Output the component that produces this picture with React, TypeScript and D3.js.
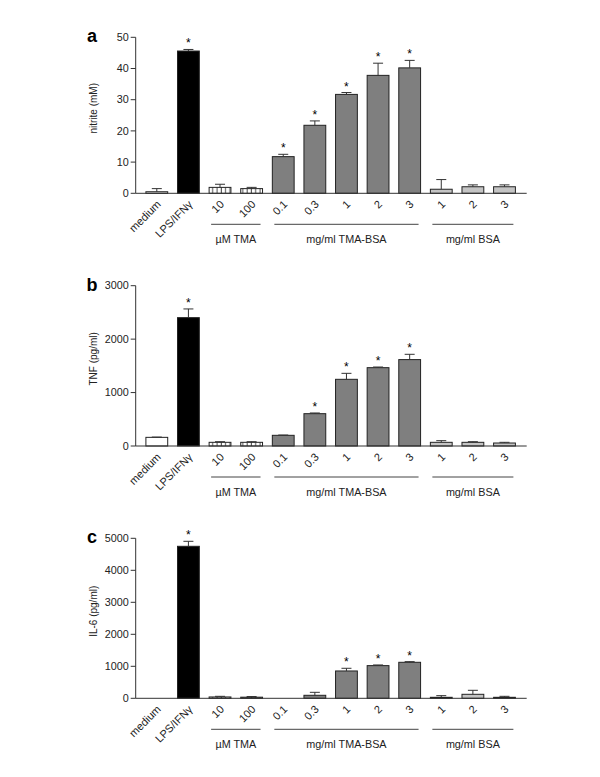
import React from "react";
import * as d3 from "d3";

const categories = ["medium", "LPS/IFNγ", "10", "100", "0.1", "0.3", "1", "2", "3", "1", "2", "3"];
const categoryKind = ["medium", "lps", "tma", "tma", "tmabsa", "tmabsa", "tmabsa", "tmabsa", "tmabsa", "bsa", "bsa", "bsa"];

const nitriteMean = [0.5, 45.6, 1.9, 1.5, 11.75, 21.8, 31.7, 37.8, 40.2, 1.3, 2.1, 2.1];
const nitriteErr = [1.0, 0.5, 1.0, 0.4, 0.75, 1.4, 0.6, 3.9, 2.4, 3.1, 0.6, 0.6];
const nitriteStar = [false, true, false, false, true, true, true, true, true, false, false, false];
const nitriteTicks = [0, 10, 20, 30, 40, 50];

const tnfMean = [162, 2402, 69, 69, 200, 605, 1248, 1466, 1617, 69, 69, 56];
const tnfErr = [5, 163, 12, 12, 5, 13, 112, 12, 99, 31, 12, 13];
const tnfStar = [false, true, false, false, false, true, true, true, true, false, false, false];
const tnfTicks = [0, 1000, 2000, 3000];

const il6Mean = [0, 4750, 42, 35, 0, 94, 854, 1021, 1125, 31, 125, 31];
const il6Err = [0, 156, 20, 20, 0, 93, 84, 21, 21, 52, 125, 31];
const il6Star = [false, true, false, false, false, false, true, true, true, false, false, false];
const il6Ticks = [0, 1000, 2000, 3000, 4000, 5000];

const groupLabels = ["µM TMA", "mg/ml TMA-BSA", "mg/ml BSA"];
const groupStart = [2, 4, 9];
const groupEnd = [3, 8, 11];

const FONT = "'Liberation Sans', Arial, Helvetica, sans-serif";

const fills: Record<string, string> = {
  medium: "#ffffff",
  lps: "#000000",
  tma: "url(#vhatch)",
  tmabsa: "#7f7f7f",
  bsa: "#c4c4c4",
};

type PanelProps = {
  letter: string;
  yLabel: string;
  means: number[];
  errs: number[];
  stars: boolean[];
  ticks: number[];
  yTop: number;
  yBase: number;
};

const x = d3
  .scaleBand<number>()
  .domain(d3.range(categories.length))
  .range([141, 520.3])
  .paddingInner(0.31)
  .paddingOuter(0.155);

const axisX = 135.7;
const axisEnd = 526.7;

function Panel({ letter, yLabel, means, errs, stars, ticks, yTop, yBase }: PanelProps) {
  const maxT = ticks[ticks.length - 1];
  const y = d3.scaleLinear().domain([0, maxT]).range([yBase, yTop]);
  const bw = x.bandwidth();
  return (
    <g>
      <text x={92} y={yTop + 5} fontSize={18} fontWeight="bold" fontFamily={FONT} textAnchor="middle">
        {letter}
      </text>
      <text
        transform={`translate(96.5,${(yTop + yBase) / 2 - 7}) rotate(-90)`}
        fontSize={10}
        fontFamily={FONT}
        textAnchor="middle"
        fill="#222"
      >
        {yLabel}
      </text>
      {/* y axis */}
      <line x1={axisX} x2={axisX} y1={y(maxT)} y2={yBase} stroke="#333" strokeWidth={1} />
      {ticks.map((t) => (
        <g key={t}>
          <line x1={axisX - 5} x2={axisX} y1={y(t)} y2={y(t)} stroke="#333" strokeWidth={1} />
          <text x={axisX - 7} y={y(t)} dy="0.35em" fontSize={10.8} fontFamily={FONT} textAnchor="end" fill="#222">
            {t}
          </text>
        </g>
      ))}
      {/* bars */}
      {means.map((m, i) => {
        const bx = x(i)!;
        const cx = bx + bw / 2;
        const top = y(m);
        const errTop = y(m + errs[i]);
        return (
          <g key={i}>
            {m > 0 && (
              <rect
                x={bx}
                y={top}
                width={bw}
                height={yBase - top}
                fill={fills[categoryKind[i]]}
                stroke="#222"
                strokeWidth={1}
              />
            )}
            {errs[i] > 0 && (
              <g stroke="#333" strokeWidth={1}>
                <line x1={cx} x2={cx} y1={top} y2={errTop} />
                <line x1={cx - 5} x2={cx + 5} y1={errTop} y2={errTop} />
              </g>
            )}
            {stars[i] && (
              <text x={cx} y={errTop - 2} fontSize={12} fontFamily={FONT} textAnchor="middle">
                *
              </text>
            )}
          </g>
        );
      })}
      {/* baseline */}
      <line x1={axisX} x2={axisEnd} y1={yBase} y2={yBase} stroke="#333" strokeWidth={1} />
      {/* category labels */}
      {categories.map((c, i) => {
        const cx = x(i)! + bw / 2;
        return (
          <text
            key={i}
            transform={`translate(${cx + 2},${yBase + 9}) rotate(-45)`}
            fontSize={11}
            fontFamily={FONT}
            textAnchor="end"
            dy="0.35em"
            fill="#222"
          >
            {c}
          </text>
        );
      })}
      {/* groups */}
      {groupLabels.map((g, k) => {
        const x1 = x(groupStart[k])! + 2;
        const x2 = x(groupEnd[k])! + bw - 2;
        return (
          <g key={g}>
            <line x1={x1} x2={x2} y1={yBase + 31} y2={yBase + 31} stroke="#444" strokeWidth={1} />
            <text x={(x1 + x2) / 2} y={yBase + 50} fontSize={10.8} fontFamily={FONT} textAnchor="middle" fill="#222">
              {g}
            </text>
          </g>
        );
      })}
    </g>
  );
}

export default function App() {
  return (
    <svg
      width={600}
      height={777}
      style={{ position: "absolute", left: 0, top: 0, background: "#fff" }}
      xmlns="http://www.w3.org/2000/svg"
    >
      <defs>
        <pattern id="vhatch" patternUnits="userSpaceOnUse" width={4.3} height={10}>
          <rect width={4.3} height={10} fill="#fff" />
          <line x1={2} x2={2} y1={0} y2={10} stroke="#333" strokeWidth={0.9} />
        </pattern>
      </defs>
      <rect width={600} height={777} fill="#fff" />
      <Panel
        letter="a"
        yLabel="nitrite (mM)"
        means={nitriteMean}
        errs={nitriteErr}
        stars={nitriteStar}
        ticks={nitriteTicks}
        yTop={37.3}
        yBase={193.3}
      />
      <Panel
        letter="b"
        yLabel="TNF (pg/ml)"
        means={tnfMean}
        errs={tnfErr}
        stars={tnfStar}
        ticks={tnfTicks}
        yTop={285.7}
        yBase={446}
      />
      <Panel
        letter="c"
        yLabel="IL-6 (pg/ml)"
        means={il6Mean}
        errs={il6Err}
        stars={il6Star}
        ticks={il6Ticks}
        yTop={538.3}
        yBase={698.3}
      />
    </svg>
  );
}
